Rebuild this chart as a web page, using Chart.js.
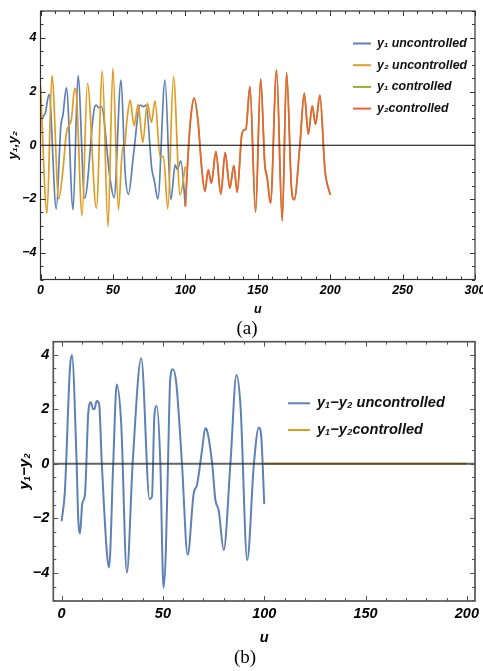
<!DOCTYPE html>
<html>
<head>
<meta charset="utf-8">
<script src="https://cdn.jsdelivr.net/npm/chart.js@4.4.1/dist/chart.umd.min.js"></script>
<style>
  body { margin: 0; background: #fff; width: 483px; height: 671px; position: relative; overflow: hidden; }
  canvas { position: absolute; left: 0; }
  #chartA { top: 0; }
  #chartB { top: 335px; }
  .cap { position: absolute; width: 60px; text-align: center; font-family: 'Liberation Serif', 'Times New Roman', serif; font-size: 19px; line-height: 22px; color: #000; }
</style>
</head>
<body>
<canvas id="chartA" width="483" height="320"></canvas>
<div class="cap" style="left:217px; top:317px;">(a)</div>
<canvas id="chartB" width="483" height="313"></canvas>
<div class="cap" style="left:215px; top:646px;">(b)</div>
<script>
// (a) y1, y2 uncontrolled for 0..100, controlled for 100..200
const uY1Unc = [0, 1.5, 3.3, 5.9, 10.9, 14, 15.5, 17.9, 22.5, 25.9, 30.5, 37.5, 38.6, 40, 42, 48, 50.8, 55.6, 58.4, 60.7, 64.2, 68.8, 71.1, 72.9, 76.8, 78.7, 81, 86, 90, 93, 94.5, 96.9, 100]
const y1Unc = [1.0, 1.05, 1.2, 1.9, -2.37, 0.69, 1.13, 2.14, -2.4, 2.59, -1.97, 1.45, 1.5, 1.4, 1.44, -1.23, -1.95, 2.43, -0.98, -1.82, -0.36, 1.5, 1.44, 1.5, -0.86, -1.35, -2.0, 2.43, -2.03, -0.73, -0.9, -0.58, -2.22]

const uY2Unc = [0, 4.5, 7.9, 12.6, 15.5, 18, 21.3, 23.6, 24.5, 28.7, 32.4, 38.6, 42.7, 46.6, 50, 53.8, 56.8, 58, 59.6, 61.9, 64.6, 67.4, 70.6, 73.8, 76.6, 79.1, 82.6, 84.9, 87.9, 91.8, 96.4, 100]
const y2Unc = [2.2, -2.53, 2.59, -2.0, -0.92, 0.5, 0.95, 2.12, 2.05, -2.62, 2.3, -2.34, 2.76, -3.03, 2.86, -2.4, -0.05, -0.05, 0.88, 1.68, 0.73, 1.52, 0.11, 1.56, 0.85, 1.65, -0.42, -0.42, -2.37, 2.55, -1.85, -0.79]

// controlled: y1 and y2 coincide, only the y2 trace is visible
const uCon = [100, 102.6, 104.2, 106, 108.8, 111.1, 113.5, 115.8, 118, 121.1, 124.5, 127.5, 130.7, 133.5, 135.8, 138.8, 140.4, 141.8, 144.6, 148.5, 152, 154.9, 156.5, 158.8, 163, 166.9, 169.9, 173.3, 175.2, 179.1, 182.1, 184.9, 187.6, 189.9, 192.9, 196.4, 200]
const y2Con = [-2.28, 0.26, 1.25, 1.77, 0.88, -0.73, -1.72, -0.92, -1.41, -0.24, -1.82, -0.27, -1.6, -0.76, -1.75, 0.32, 0.57, 0.6, 2.18, -2.49, 2.47, -0.73, -1.2, -2.16, 2.8, -2.81, 2.71, -1.6, -2.03, 0, 1.93, 0.41, 1.47, 0.78, 1.87, -0.92, -1.85]
const y1Con = [-2.28, 0.26, 1.25, 1.77, 0.88, -0.73, -1.72, -0.92, -1.41, -0.24, -1.82, -0.27, -1.6, -0.76, -1.75, 0.32, 0.57, 0.6, 2.18, -2.49, 2.47, -0.73, -1.2, -2.16, 2.8, -2.81, 2.71, -1.6, -2.03, 0, 1.93, 0.41, 1.47, 0.78, 1.87, -0.92, -1.85]

// (b) y1 - y2
const uDiffUnc = [0, 1.6, 4.1, 5.1, 7.4, 8.2, 9.1, 10.2, 11.5, 13.2, 14.4, 15.6, 16.2, 17.3, 18.5, 19.8, 22.3, 23.4, 25.5, 27.2, 29.4, 32.2, 35.1, 39.3, 43.4, 44.6, 45.8, 47, 48.7, 50.3, 51.4, 52.5, 53.6, 54.9, 56.6, 59.4, 62.2, 65.2, 66.8, 69.3, 70.9, 71.6, 74.3, 75.9, 77.5, 80, 83.3, 86.3, 88.3, 91.6, 94.9, 97.3, 98.5, 100]
const diffUnc = [-2.1, -1.03, 3.49, 3.98, 0.07, -2.0, -2.55, -1.45, -1.15, 1.9, 2.25, 2.0, 2.0, 2.3, 2.2, 0.07, -3.22, -3.8, 0.07, 2.9, 1.48, -3.99, 0.07, 3.86, -1.29, -1.2, 1.78, 2.11, 0.07, -4.55, -3.3, 0, 3.1, 3.46, 2.94, 0, -3.34, -1.08, -0.78, 0.5, 1.3, 1.25, 0, -1.33, -1.7, -3.16, 0, 3.25, 2.09, -3.53, 0, 1.33, 1.0, -1.48]
const uDiffCon = [100, 200]
const diffCon = [0, 0]

// tick labels
const xTicksA = [0, 50, 100, 150, 200, 250, 300]
const xTicksB = [0, 50, 100, 150, 200]
const yTicks = [-4, -2, 0, 2, 4]

const pts = (us, ys) => us.map((u, i) => ({x: u, y: ys[i]}))
const minus = v => v < 0 ? '\u2212' + (-v) : String(v)

// frame with inward ticks and the zero axis, mathematica style
const frame = {
  id: 'frame',
  afterDatasetsDraw(chart, args, o) {
    const {ctx, chartArea: a, scales: {y}} = chart
    const py = y.getPixelForValue(0)
    ctx.save()
    ctx.strokeStyle = o.axisColor
    ctx.lineWidth = o.axisWidth
    ctx.beginPath(); ctx.moveTo(a.left, py); ctx.lineTo(a.right, py); ctx.stroke()
    ctx.restore()
  },
  afterDraw(chart, args, o) {
    const {ctx, chartArea: a, scales: {x, y}} = chart
    ctx.save()
    ctx.strokeStyle = o.color
    ctx.lineWidth = o.width
    ctx.strokeRect(a.left, a.top, a.right - a.left, a.bottom - a.top)
    ctx.lineWidth = 1
    const seg = (x1, y1, x2, y2) => { ctx.beginPath(); ctx.moveTo(x1, y1); ctx.lineTo(x2, y2); ctx.stroke() }
    for (let v = Math.ceil(x.min / o.xMinor) * o.xMinor; v <= x.max + 1e-9; v += o.xMinor) {
      const p = Math.round(x.getPixelForValue(v)) + 0.5
      const len = Math.abs(v % o.xMajor) < 1e-6 ? o.major : o.minor
      seg(p, a.bottom, p, a.bottom - len)
      seg(p, a.top, p, a.top + len)
    }
    for (let v = Math.ceil(y.min / o.yMinor) * o.yMinor; v <= y.max + 1e-9; v += o.yMinor) {
      const p = Math.round(y.getPixelForValue(v)) + 0.5
      const len = Math.abs(v % o.yMajor) < 1e-6 ? o.major : o.minor
      seg(a.left, p, a.left + len, p)
      seg(a.right, p, a.right - len, p)
    }
    ctx.restore()
  }
}

// legend drawn inside the plot like the original
const refLegend = {
  id: 'refLegend',
  afterDraw(chart, args, o) {
    const ctx = chart.ctx
    ctx.save()
    ctx.font = o.font
    ctx.textBaseline = 'middle'
    chart.data.datasets.forEach((d, i) => {
      const yy = o.top + i * o.step
      ctx.strokeStyle = d.borderColor
      ctx.lineWidth = 2
      ctx.beginPath(); ctx.moveTo(o.left, yy); ctx.lineTo(o.left + o.len, yy); ctx.stroke()
      ctx.fillStyle = '#111'
      ctx.fillText(d.label, o.left + o.len + o.gap, yy)
    })
    ctx.restore()
  }
}

const fontA = {family: 'Liberation Sans', size: 12.5, style: 'italic', weight: 'bold'}
const fontB = {family: 'Liberation Sans', size: 14.5, style: 'italic', weight: 'bold'}

new Chart(document.getElementById('chartA'), {
  type: 'line',
  data: {
    datasets: [
      {label: 'y\u2081 uncontrolled', data: pts(uY1Unc, y1Unc), borderColor: '#5e81b5', order: 4},
      {label: 'y\u2082 uncontrolled', data: pts(uY2Unc, y2Unc), borderColor: '#e19c24', order: 3},
      {label: 'y\u2081 controlled', data: pts(uCon, y1Con), borderColor: '#8fb032', order: 2},
      {label: 'y\u2082controlled', data: pts(uCon, y2Con), borderColor: '#eb6235', order: 1}
    ]
  },
  options: {
    responsive: false,
    animation: false,
    elements: {point: {radius: 0}, line: {borderWidth: 1.7, cubicInterpolationMode: 'monotone'}},
    layout: {padding: {top: 11, right: 8, left: 0, bottom: 0}},
    scales: {
      x: {
        type: 'linear', min: 0, max: 300,
        afterBuildTicks: s => { s.ticks = xTicksA.map(v => ({value: v})) },
        afterFit: s => { s.height = 40.5; s.paddingLeft = 0; s.paddingRight = 0 },
        grid: {display: false, drawTicks: false},
        border: {display: false},
        ticks: {color: '#000', font: fontA, padding: 3.5, maxRotation: 0, autoSkip: false},
        title: {display: true, text: 'u', color: '#000', font: fontA, padding: {top: 0, bottom: 3}}
      },
      y: {
        type: 'linear', min: -5, max: 5,
        afterBuildTicks: s => { s.ticks = yTicks.map(v => ({value: v})) },
        afterFit: s => { s.width = 40.5; s.paddingTop = 0; s.paddingBottom = 0 },
        grid: {display: false, drawTicks: false},
        border: {display: false},
        ticks: {color: '#000', font: fontA, padding: 4, callback: minus},
        title: {display: true, text: 'y\u2081,y\u2082', color: '#000', font: {family: 'Liberation Sans', size: 13.5, style: 'italic', weight: 'bold'}, padding: {top: 5, bottom: 0}}
      }
    },
    plugins: {
      legend: {display: false},
      tooltip: {enabled: false},
      frame: {color: '#333', width: 1.2, axisColor: '#000', axisWidth: 1.1, xMinor: 10, xMajor: 50, yMinor: 0.5, yMajor: 2, major: 5, minor: 3},
      refLegend: {font: 'italic bold 12.4px "Liberation Sans"', left: 353, len: 18, gap: 6, top: 43.5, step: 21.7}
    }
  },
  plugins: [frame, refLegend]
})

new Chart(document.getElementById('chartB'), {
  type: 'line',
  data: {
    datasets: [
      {label: 'y\u2081\u2212y\u2082 uncontrolled', data: pts(uDiffUnc, diffUnc), borderColor: '#5e81b5', order: 2},
      {label: 'y\u2081\u2212y\u2082controlled', data: pts(uDiffCon, diffCon), borderColor: '#e19c24', order: 1}
    ]
  },
  options: {
    responsive: false,
    animation: false,
    elements: {point: {radius: 0}, line: {borderWidth: 2, cubicInterpolationMode: 'monotone'}},
    layout: {padding: {top: 6.7, right: 8, left: 0, bottom: 0}},
    scales: {
      x: {
        type: 'linear', min: -4.1, max: 204,
        afterBuildTicks: s => { s.ticks = xTicksB.map(v => ({value: v})) },
        afterFit: s => { s.height = 47; s.paddingLeft = 0; s.paddingRight = 0 },
        grid: {display: false, drawTicks: false},
        border: {display: false},
        ticks: {color: '#000', font: fontB, padding: 4.5, maxRotation: 0, autoSkip: false},
        title: {display: true, text: 'u', color: '#000', font: fontB, padding: {top: 0, bottom: 1.5}}
      },
      y: {
        type: 'linear', min: -5.03, max: 4.47,
        afterBuildTicks: s => { s.ticks = yTicks.map(v => ({value: v})) },
        afterFit: s => { s.width = 53.3; s.paddingTop = 0; s.paddingBottom = 0 },
        grid: {display: false, drawTicks: false},
        border: {display: false},
        ticks: {color: '#000', font: fontB, padding: 4, callback: minus},
        title: {display: true, text: 'y\u2081\u2212y\u2082', color: '#000', font: {family: 'Liberation Sans', size: 15, style: 'italic', weight: 'bold'}, padding: {top: 16, bottom: 0}}
      }
    },
    plugins: {
      legend: {display: false},
      tooltip: {enabled: false},
      frame: {color: '#555', width: 1.7, axisColor: 'rgba(40,40,40,0.72)', axisWidth: 2, xMinor: 10, xMajor: 50, yMinor: 0.5, yMajor: 2, major: 5, minor: 3},
      refLegend: {font: 'italic bold 14.6px "Liberation Sans"', left: 288, len: 22, gap: 7, top: 68.3, step: 26.7}
    }
  },
  plugins: [frame, refLegend]
})
</script>
</body>
</html>
